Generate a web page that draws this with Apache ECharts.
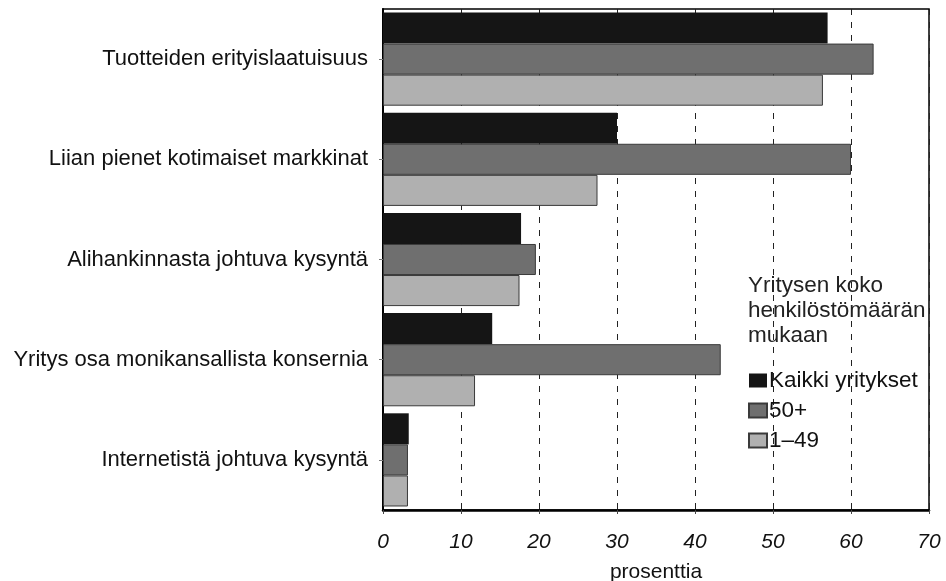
<!DOCTYPE html>
<html>
<head>
<meta charset="utf-8">
<script src="https://cdn.jsdelivr.net/npm/echarts@6/dist/echarts.min.js"></script>
<style>html,body{margin:0;padding:0;background:#fff}#c{width:946px;height:581px}</style>
</head>
<body>
<div id="c"></div>
<script>
const categories = [
  "Tuotteiden erityislaatuisuus",
  "Liian pienet kotimaiset markkinat",
  "Alihankinnasta johtuva kysyntä",
  "Yritys osa monikansallista konsernia",
  "Internetistä johtuva kysyntä"
];
const seriesNames = ["Kaikki yritykset", "50+", "1–49"];
const kaikki = [57.0, 30.0, 17.7, 14.0, 3.3];
const suuret = [62.9, 60.0, 19.6, 43.3, 3.2];
const pienet = [56.4, 27.5, 17.5, 11.8, 3.2];
const xTicks = [0, 10, 20, 30, 40, 50, 60, 70];
const legendTitle = ["Yritysen koko", "henkilöstömäärän", "mukaan"];

const colors = ["#151515", "#6f6f6f", "#b0b0b0"];
const font = "Liberation Sans, Arial, sans-serif";

const chart = echarts.init(document.getElementById('c'), null, {renderer: 'canvas'});
const mk = (name, data, i) => ({
  name: name, type: 'bar', data: data,
  barGap: '0%', barCategoryGap: '7%',
  itemStyle: {color: colors[i], borderColor: i === 0 ? '#000' : '#3a3a3a', borderWidth: i === 0 ? 0 : 1},
  emphasis: {disabled: true}
});
chart.setOption({
  animation: false,
  textStyle: {fontFamily: font},
  grid: {left: 383, right: 17, top: 9, bottom: 71, show: true, borderColor: '#000', borderWidth: 1.5,
    containLabel: false, outerBoundsMode: 'none'},
  xAxis: {
    type: 'value', min: 0, max: 70, interval: 10,
    name: 'prosenttia', nameLocation: 'middle', nameGap: 52,
    nameTextStyle: {fontSize: 21, color: '#111', fontFamily: font},
    axisLine: {show: true, lineStyle: {color: '#000', width: 2.5}},
    axisTick: {show: true, length: 4, lineStyle: {color: '#444'}},
    axisLabel: {fontSize: 21, fontStyle: 'italic', color: '#111', margin: 22, fontFamily: font,
      formatter: v => xTicks.indexOf(v) >= 0 ? String(v) : ''},
    splitLine: {show: true, lineStyle: {color: '#222', type: [6, 7], width: 1}}
  },
  yAxis: {
    type: 'category', data: categories, inverse: true,
    axisLine: {show: true, lineStyle: {color: '#000', width: 2}},
    axisTick: {show: true, alignWithLabel: true, length: 4, interval: 0, lineStyle: {color: '#777'}},
    axisLabel: {fontSize: 22, color: '#111', margin: 15, fontFamily: font},
    splitLine: {show: false}
  },
  legend: {
    orient: 'vertical', left: 748, top: 369, padding: 0, itemWidth: 18, itemHeight: 14, itemGap: 7,
    data: seriesNames, icon: 'rect',
    textStyle: {fontSize: 22.5, color: '#111', fontFamily: font, padding: [0, 0, 0, -3]},
    selectedMode: false
  },
  graphic: [{
    type: 'text', left: 748, top: 273,
    style: {text: legendTitle.join('\n'), fontSize: 22.5, lineHeight: 25, fill: '#222', fontFamily: font}
  }],
  series: [mk(seriesNames[0], kaikki, 0), mk(seriesNames[1], suuret, 1), mk(seriesNames[2], pienet, 2)]
});
</script>
</body>
</html>
